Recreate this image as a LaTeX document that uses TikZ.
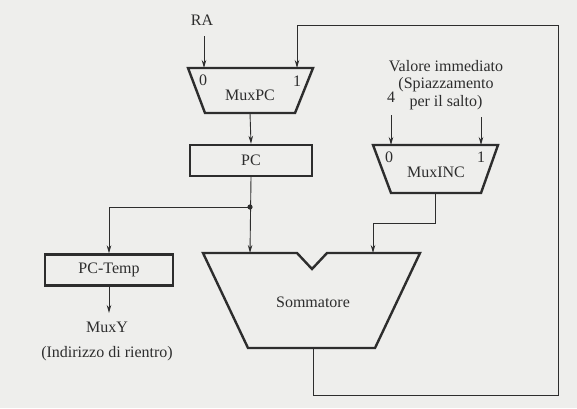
\documentclass[tikz,border=0pt]{standalone}
\usepackage{fontspec}
\setmainfont{Liberation Serif}
\usepackage{tikz}
\usetikzlibrary{arrows.meta,positioning,calc}
\definecolor{scanbg}{RGB}{238,238,236}
\definecolor{ink}{RGB}{45,45,45}
\tikzset{
    >={Stealth[length=8pt,width=4.5pt]},
    every picture/.style={line width=0.8pt},
    unit/.style={draw=ink,line width=2.4pt,line join=miter},
    block/.style={unit,rectangle,minimum width=122pt,minimum height=31pt,inner sep=0pt},
    wire/.style={draw=ink,line width=0.9pt},
    txt/.style={font=\fontsize{16}{18}\selectfont,text=ink,inner sep=0pt}
}

\begin{document}
\begin{tikzpicture}[x=1pt,y=-1pt]
        \fill[scanbg] (0,0) rectangle (577,408);
        \useasboundingbox (0,0) rectangle (577,408);

        % MuxPC
        \draw[unit] (188,68) -- (313,68) -- (295,113) -- (205,113) -- cycle;
        \node[txt] (muxpc) at (250,95) {MuxPC};
        \node[txt] (muxpc0) at (203,80) {0};
        \node[txt] (muxpc1) at (297,81) {1};
        \coordinate (muxpcin0) at (204,68);
        \coordinate (muxpcin1) at (297,68);
        \coordinate (muxpcout) at (250,113);

        % MuxINC
        \draw[unit] (373,145) -- (498,145) -- (481,193) -- (391,193) -- cycle;
        \node[txt] (muxinc) at (436,172) {MuxINC};
        \node[txt] (muxinc0) at (389,157) {0};
        \node[txt] (muxinc1) at (481,157) {1};
        \coordinate (muxincin0) at (391,145);
        \coordinate (muxincin1) at (481,145);
        \coordinate (muxincout) at (435,193);

        % registers
        \node[block] (pc) at (251,160.5) {};
        \node[txt] at (pc) {PC};
        \node[block,minimum width=128pt] (pctemp) at (109,270) {};
        \node[txt] at (pctemp) {PC-Temp};

        % Sommatore
        \draw[unit] (203,253) -- (297,253) -- (312,269) -- (327,253) -- (420,253)
            -- (375,348) -- (248,348) -- cycle;
        \node[txt] (somma) at (313,302) {Sommatore};
        \coordinate (sommain0) at (250,253);
        \coordinate (sommain1) at (373,253);
        \coordinate (sommaout) at (313,348);

        % inputs and outputs
        \node[txt] (ra) at (202,20) {RA};
        \node[txt] (quattro) at (391,97) {4};
        \node[txt,align=center,font=\fontsize{16}{17.5}\selectfont] (imm) at (446,85)
            {Valore immediato\\(Spiazzamento\\per il salto)};
        \node[txt,align=center,font=\fontsize{16}{25}\selectfont] (muxy) at (107,341)
            {MuxY\\(Indirizzo di rientro)};

        \coordinate (junc) at (250,207);
        \coordinate (retback) at (558,395);

        % connectors
        \draw[wire,->] (204,36) -- (muxpcin0);
        \draw[wire,->] (391,115) -- (muxincin0);
        \draw[wire,->] (481,117) -- (muxincin1);
        \draw[wire,->] (muxpcout) -- (pc.north);
        \draw[wire,->] (pc.south) -- (sommain0);
        \draw[wire,->] (junc) -| (pctemp.north);
        \draw[wire,->] (pctemp.south) -- (109,313);
        \draw[wire,->] (muxincout) -- (435,223) -| (sommain1);
        \draw[wire,->] (sommaout) |- (retback) |- (297,25) -- (muxpcin1);
        \fill[ink] (junc) circle (2.6pt);
    \end{tikzpicture}
\end{document}
